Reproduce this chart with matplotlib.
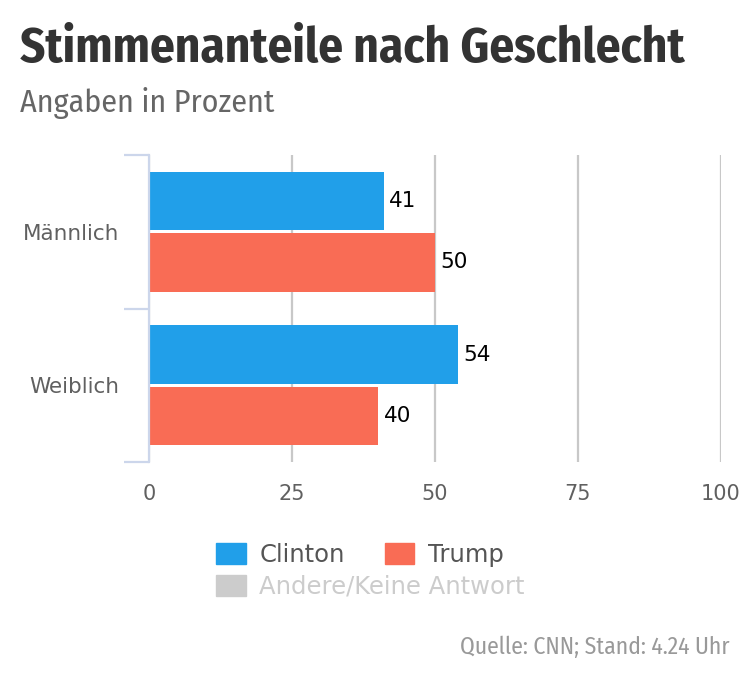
import matplotlib
matplotlib.use("Agg")
from matplotlib import pyplot as plt
from matplotlib.patches import Patch
import numpy as np

# data
categories = ["Männlich", "Weiblich"]
clinton = [41, 54]
trump = [50, 40]
series_names = ["Clinton", "Trump", "Andere/Keine Antwort"]
xticks = [0, 25, 50, 75, 100]

blue = "#219fe9"
red = "#f96c55"
grey = "#cccccc"
cond = ["Fira Sans Condensed", "DejaVu Sans"]

fig = plt.figure(figsize=(7.5, 6.84), dpi=100)
ax = fig.add_axes([149 / 750, 1 - 462 / 684, 572 / 750, 307 / 684])

y = np.arange(len(categories))
h = 0.38
bars_c = ax.barh(y - 0.2, clinton, height=h, color=blue, zorder=3)
bars_t = ax.barh(y + 0.2, trump, height=h, color=red, zorder=3)

for bars in (bars_c, bars_t):
    for b in bars:
        ax.text(b.get_width() + 1.0, b.get_y() + b.get_height() / 2, str(int(b.get_width())),
                va="center", ha="left", fontsize=15.5, color="black", family="DejaVu Sans", zorder=4)

ax.set_xlim(0, 100)
ax.set_ylim(1.5, -0.5)
ax.set_xticks(xticks)
ax.set_xticklabels([str(t) for t in xticks], fontsize=15, color="#606060")
ax.tick_params(axis="x", length=0, pad=16)
ax.xaxis.grid(True, color="#c8c8c8", linewidth=1.6, zorder=0)

# category labels and boundary ticks
ax.set_yticks(y)
ax.set_yticklabels(categories, fontsize=15.5, color="#606060")
ax.tick_params(axis="y", length=0, pad=21.5)
ax.set_yticks([-0.5, 0.5, 1.5], minor=True)
ax.tick_params(axis="y", which="minor", length=18, width=1.6, color="#ccd6eb")

for s in ["top", "right", "bottom"]:
    ax.spines[s].set_visible(False)
ax.spines["left"].set_color("#ccd6eb")
ax.spines["left"].set_linewidth(1.6)
ax.spines["left"].set_zorder(5)

fig.text(20 / 750, 1 - 62 / 684, "Stimmenanteile nach Geschlecht", fontsize=35.3,
         fontweight="bold", color="#333333", family=cond, fontstretch="condensed", va="baseline")
fig.text(20 / 750, 1 - 112 / 684, "Angaben in Prozent", fontsize=23, fontweight="normal",
         color="#666666", family=cond, fontstretch="condensed", va="baseline")

# legend: first row Clinton + Trump, second row Andere (hidden series)
leg1 = fig.legend([Patch(color=blue), Patch(color=red)], series_names[:2], ncol=2, loc="upper left",
                  bbox_to_anchor=(216 / 750, 1 - 543 / 684), frameon=False, fontsize=17.5,
                  handlelength=1.23, handleheight=0.95, handletextpad=0.55, columnspacing=1.64,
                  borderpad=0, borderaxespad=0)
for t in leg1.get_texts():
    t.set_color("#555555")
leg2 = fig.legend([Patch(color=grey)], series_names[2:], loc="upper left",
                  bbox_to_anchor=(216 / 750, 1 - 575 / 684), frameon=False, fontsize=17.5,
                  handlelength=1.23, handleheight=0.95, handletextpad=0.55,
                  borderpad=0, borderaxespad=0)
leg2.get_texts()[0].set_color(grey)

fig.text(730 / 750, 1 - 654 / 684, "Quelle: CNN; Stand: 4.24 Uhr", fontsize=17, fontweight="normal",
         color="#999999", ha="right", family=cond, fontstretch="condensed", va="baseline")

fig.savefig("out.png", dpi=100)
